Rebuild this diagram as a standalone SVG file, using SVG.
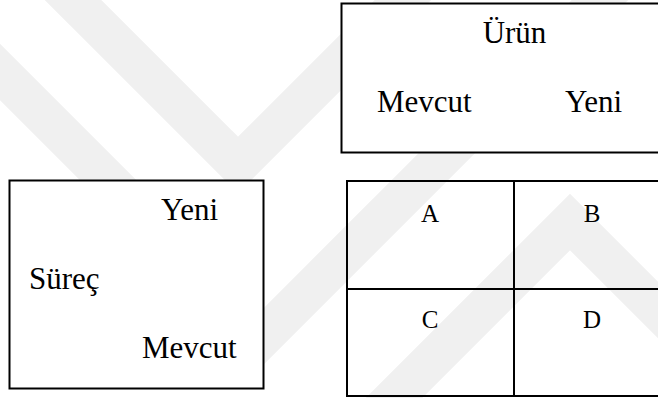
<svg xmlns="http://www.w3.org/2000/svg" width="658" height="398" viewBox="0 0 658 398">
  <style>
    .wm { fill: none; stroke: #f0f0f0; stroke-width: 40; stroke-linejoin: miter; stroke-linecap: butt; }
    .box { fill: #ffffff; stroke: #000000; stroke-width: 2; }
    .grid { fill: none; stroke: #000000; stroke-width: 2; }
    .lbl { font-size: 31px; fill: #000000; }
    .cell { font-size: 25px; fill: #000000; text-anchor: middle; }
  </style>

  <rect width="658" height="398" fill="#ffffff"/>

  <!-- faint background chevrons -->
  <g id="background">
    <polyline class="wm" points="45,-28 238,165 420,-17"/>
    <polyline class="wm" points="-40,32 264,336 640,-40"/>
    <polyline class="wm" points="360,432 570,222 700,352"/>
  </g>

  <g font-family="'Liberation Serif', 'DejaVu Serif', 'Times New Roman', serif">
    <!-- product axis -->
    <g id="urun">
      <rect class="box" x="341.5" y="3.5" width="400" height="149"/>
      <text class="lbl" x="514.5" y="43" text-anchor="middle">Ürün</text>
      <text class="lbl" x="377" y="112">Mevcut</text>
      <text class="lbl" x="565" y="112">Yeni</text>
    </g>

    <!-- process axis -->
    <g id="surec">
      <rect class="box" x="9.5" y="180.5" width="254" height="208"/>
      <text class="lbl" x="161" y="220">Yeni</text>
      <text class="lbl" x="29" y="289">Süreç</text>
      <text class="lbl" x="142" y="358">Mevcut</text>
    </g>

    <!-- 2x2 matrix -->
    <g id="matrix">
      <rect class="grid" x="347" y="181" width="400" height="215"/>
      <line class="grid" x1="514" y1="181" x2="514" y2="396"/>
      <line class="grid" x1="347" y1="289" x2="658" y2="289"/>
      <text class="cell" x="430" y="222">A</text>
      <text class="cell" x="592" y="222">B</text>
      <text class="cell" x="430" y="328">C</text>
      <text class="cell" x="592" y="328">D</text>
    </g>
  </g>
</svg>
